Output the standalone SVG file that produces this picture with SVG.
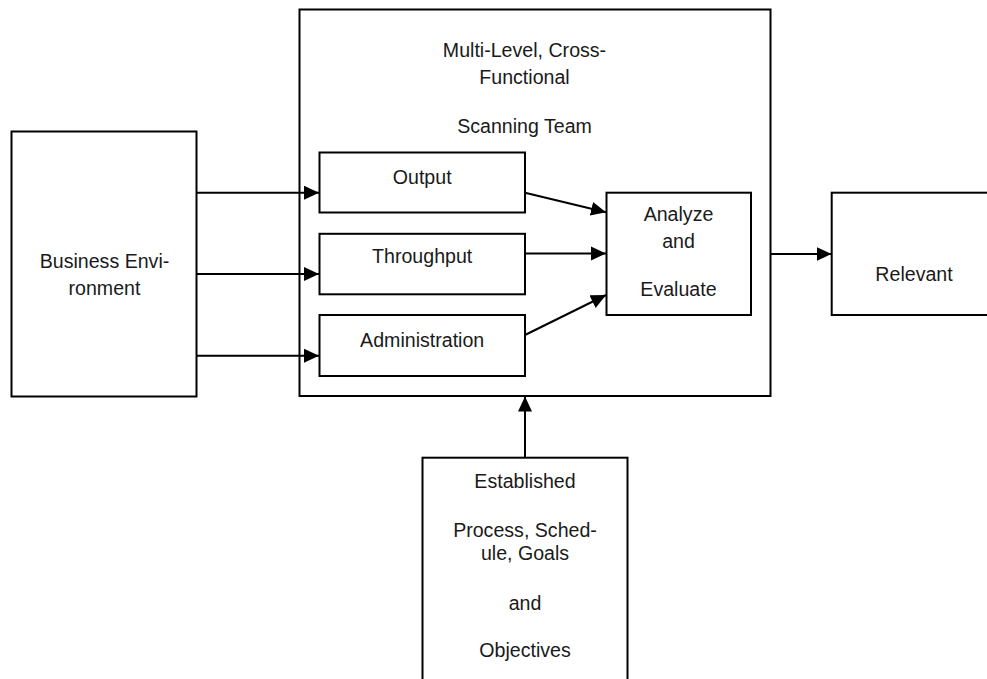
<svg xmlns="http://www.w3.org/2000/svg" width="987" height="679" viewBox="0 0 987 679">
<defs>
<style>
.box{fill:#fff;stroke:#000;stroke-width:2}
.t{font-family:"Liberation Sans",Arial,sans-serif;font-size:19.6px;fill:#1a1a1a;text-anchor:middle}
.c{stroke:#000;stroke-width:2;fill:none;marker-end:url(#ah)}
</style>
<marker id="ah" markerUnits="userSpaceOnUse" markerWidth="16" markerHeight="16" viewBox="0 0 16 16" refX="15" refY="8" orient="auto">
<path d="M0,1 L15,8 L0,15 Z" fill="#000"/>
</marker>
</defs>
<rect width="987" height="679" fill="#fff"/>
<g id="team">
<rect class="box" x="299.5" y="9.5" width="471" height="386.5"/>
<text class="t" x="524.5" y="57.3">Multi-Level, Cross-</text>
<text class="t" x="524.5" y="84">Functional</text>
<text class="t" x="524.5" y="132.7">Scanning Team</text>
</g>
<g id="business">
<rect class="box" x="11.5" y="131.5" width="185" height="265"/>
<text class="t" x="104.5" y="268.3">Business Envi-</text>
<text class="t" x="104.5" y="295">ronment</text>
</g>
<g id="output">
<rect class="box" x="319.5" y="152.5" width="205.5" height="60"/>
<text class="t" x="422.2" y="183.7">Output</text>
</g>
<g id="throughput">
<rect class="box" x="319.5" y="233.8" width="205.5" height="60.5"/>
<text class="t" x="422.2" y="263.3">Throughput</text>
</g>
<g id="administration">
<rect class="box" x="319.5" y="315" width="205.5" height="61"/>
<text class="t" x="422.2" y="346.5">Administration</text>
</g>
<g id="analyze">
<rect class="box" x="606.5" y="192.7" width="144.5" height="122.3"/>
<text class="t" x="678.5" y="220.7">Analyze</text>
<text class="t" x="678.5" y="247.7">and</text>
<text class="t" x="678.5" y="295.7">Evaluate</text>
</g>
<g id="relevant">
<rect class="box" x="831.7" y="192.7" width="170" height="122.3"/>
<text class="t" x="914" y="280.7">Relevant</text>
</g>
<g id="established">
<rect class="box" x="422.5" y="457.7" width="205" height="250"/>
<text class="t" x="525" y="487.7">Established</text>
<text class="t" x="525" y="536.7">Process, Sched-</text>
<text class="t" x="525" y="560">ule, Goals</text>
<text class="t" x="525" y="610">and</text>
<text class="t" x="525" y="657.3">Objectives</text>
</g>
<g id="connectors">
<line class="c" x1="196.5" y1="192.7" x2="319" y2="192.7"/>
<line class="c" x1="196.5" y1="274" x2="319" y2="274"/>
<line class="c" x1="196.5" y1="355.7" x2="319" y2="355.7"/>
<line class="c" x1="525" y1="192.7" x2="606" y2="212.3"/>
<line class="c" x1="525" y1="253.5" x2="606" y2="253.5"/>
<line class="c" x1="525" y1="335" x2="606" y2="295"/>
<line class="c" x1="770.5" y1="254" x2="831.5" y2="254"/>
<line class="c" x1="525" y1="457.7" x2="525" y2="396.5"/>
</g>
</svg>
